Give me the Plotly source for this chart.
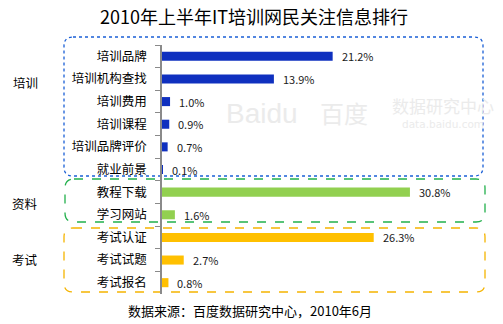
import plotly.graph_objects as go

# Data
categories = ["培训品牌", "培训机构查找", "培训费用", "培训课程", "培训品牌评价", "就业前景",
              "教程下载", "学习网站",
              "考试认证", "考试试题", "考试报名"]
values = [21.2, 13.9, 1.0, 0.9, 0.7, 0.1,
          30.8, 1.6,
          26.3, 2.7, 0.8]
groups = ["培训"] * 6 + ["资料"] * 2 + ["考试"] * 3
group_names = ["培训", "资料", "考试"]
group_colors = {"培训": "#0f30bf", "资料": "#92d050", "考试": "#ffc000"}
box_colors = {"培训": "#1a5fd6", "资料": "#22b04c", "考试": "#f5b400"}
box_dash = {"培训": "dot", "资料": "dash", "考试": "dash"}

title = "2010年上半年IT培训网民关注信息排行"
source = "数据来源：百度数据研究中心，2010年6月"

W, H = 503, 324
ML, MR, MT, MB = 162, 19, 45, 30
PW, PH = W - ML - MR, H - MT - MB

CJK = "Noto Sans CJK SC"


def px(x):
    return (x - ML) / PW


def py(y):
    return 1 - (y - MT) / PH


def label(x, y, text, font):
    return dict(x=px(x), y=py(y), xref="paper", yref="paper", text=text,
                showarrow=False, xanchor="center", yanchor="middle", font=font)


def rounded_box(x0, y0, x1, y1, r):
    # rounded rectangle path in paper coordinates from pixel extents
    rx, ry = r / PW, r / PH
    a0, a1 = px(x0), px(x1)
    b0, b1 = py(y0), py(y1)  # b0 top (larger), b1 bottom
    return (f"M {a0 + rx},{b0} L {a1 - rx},{b0} Q {a1},{b0} {a1},{b0 - ry} "
            f"L {a1},{b1 + ry} Q {a1},{b1} {a1 - rx},{b1} "
            f"L {a0 + rx},{b1} Q {a0},{b1} {a0},{b1 + ry} "
            f"L {a0},{b0 - ry} Q {a0},{b0} {a0 + rx},{b0} Z")


fig = go.Figure()
fig.add_trace(go.Bar(
    x=values, y=categories, orientation="h",
    marker=dict(color=[group_colors[g] for g in groups], line=dict(width=0)),
    width=0.4, hoverinfo="skip",
))

annotations = []

# faint watermark behind the bars
wm = "#ebebeb"
annotations += [
    label(262, 113, "Baidu", dict(family="Liberation Sans", size=28, color=wm)),
    label(344, 112, "百度", dict(family=CJK, size=24, color=wm)),
    label(443, 106, "数据研究中心", dict(family=CJK, size=17, color=wm)),
    label(443, 124, "data.baidu.com", dict(family="DejaVu Sans", size=10.5, color=wm)),
]

for c, v in zip(categories, values):
    annotations.append(dict(x=v, y=c, xref="x", yref="y", text=f"{v:.1f}%",
                            showarrow=False, xanchor="left", yanchor="middle", xshift=7,
                            font=dict(family=CJK, size=11, color="#1a1a1a")))

# group labels on the far left
group_label_y = {"培训": 82, "资料": 203, "考试": 259}
for g in group_names:
    annotations.append(label(25, group_label_y[g], g,
                             dict(family=CJK, size=12.5, color="#000000")))

# title and source
annotations.append(label(254, 16, title, dict(family=CJK, size=18, color="#000000")))
annotations.append(label(250, 310, source, dict(family=CJK, size=13, color="#000000")))

shapes = []
box_extent = {"培训": (64, 37, 483, 176), "资料": (65, 179, 485, 222), "考试": (64, 228, 485, 292)}
for g in group_names:
    x0, y0, x1, y1 = box_extent[g]
    shapes.append(dict(type="path", xref="paper", yref="paper",
                       path=rounded_box(x0, y0, x1, y1, 9),
                       line=dict(color=box_colors[g], width=1.3, dash=box_dash[g]),
                       layer="below"))

fig.update_layout(
    width=W, height=H,
    margin=dict(l=ML, r=MR, t=MT, b=MB),
    paper_bgcolor="white", plot_bgcolor="rgba(0,0,0,0)",
    showlegend=False,
    annotations=annotations, shapes=shapes,
    xaxis=dict(range=[0, 40], visible=False, fixedrange=True),
    yaxis=dict(type="category", categoryorder="array", categoryarray=categories,
               autorange=False, range=[10.5, -0.5],
               showline=True, linecolor="#8a8a8a", linewidth=1.5,
               ticks="outside", tickson="boundaries", ticklen=5, tickcolor="#8a8a8a",
               tickwidth=1, showgrid=False, zeroline=False,
               ticklabelstandoff=11,
               tickfont=dict(family=CJK, size=12.5, color="#000000")),
    font=dict(family=CJK),
)

fig.write_html("out.html")
